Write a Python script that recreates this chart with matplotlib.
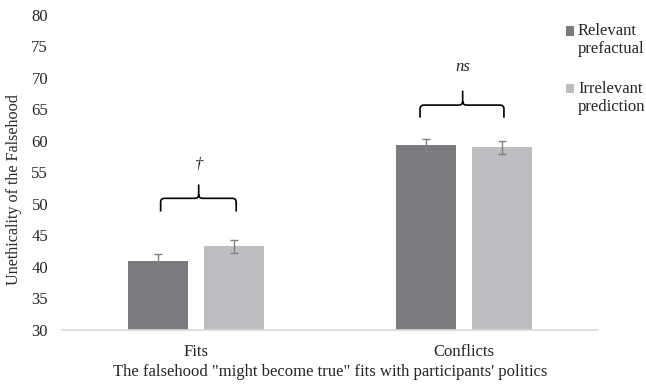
import matplotlib
matplotlib.use("Agg")
import matplotlib.pyplot as plt
import numpy as np
from matplotlib.path import Path
from matplotlib.patches import PathPatch, Rectangle

plt.rcParams['font.family'] = ['Liberation Serif', 'DejaVu Serif']

# Data
categories = ["Fits", "Conflicts"]
series_names = ["Relevant\nprefactual", "Irrelevant\nprediction"]
relevant_prefactual = [41.0, 59.4]
irrelevant_prediction = [43.3, 59.0]
relevant_err = [1.0, 0.95]
irrelevant_err = [1.05, 1.0]
significance = ["\u2020", "ns"]
y_ticks = [30, 35, 40, 45, 50, 55, 60, 65, 70, 75, 80]

colors = ["#7a7b7f", "#bdbec2"]
text_color = "#262626"
fs = 12

fig = plt.figure(figsize=(6.46, 3.85), dpi=100)
ax = fig.add_axes([62 / 646, 1 - 330 / 385, 536 / 646, 315 / 385])

x = np.arange(len(categories))
width = 0.224
offset = 0.142

ax.bar(x - offset, relevant_prefactual, width, color=colors[0], zorder=2)
ax.bar(x + offset, irrelevant_prediction, width, color=colors[1], zorder=2)
ax.errorbar(x - offset, relevant_prefactual, yerr=relevant_err, fmt='none',
            ecolor="#808080", elinewidth=1.0, capsize=3, capthick=1.0, zorder=3)
ax.errorbar(x + offset, irrelevant_prediction, yerr=irrelevant_err, fmt='none',
            ecolor="#808080", elinewidth=1.0, capsize=3, capthick=1.0, zorder=3)

ax.set_xlim(-0.5, 1.5)
ax.set_ylim(30, 80)
ax.set_yticks(y_ticks)
ax.set_xticks(x)
ax.set_xticklabels(categories)
ax.tick_params(axis='both', length=0, labelsize=fs, colors=text_color)
ax.tick_params(axis='y', pad=10)
ax.tick_params(axis='x', pad=10)
for s in ["top", "right", "left"]:
    ax.spines[s].set_visible(False)
ax.spines["bottom"].set_color("#d9d9d9")
ax.spines["bottom"].set_linewidth(1.2)

ax.set_xlabel("The falsehood \"might become true\" fits with participants' politics",
              fontsize=fs, color=text_color, labelpad=3)
fig.text(14 / 646, 1 - 190 / 385, "Unethicality of the Falsehood", rotation=90,
         ha='center', va='center', fontsize=11.6, color=text_color)


def brace(ax, x0, x1, xm, y_end, y_bar, y_peak, rx=0.015, ry=0.6):
    verts = [
        (x0, y_end), (x0, y_bar - ry), (x0, y_bar), (x0 + rx, y_bar),
        (xm - rx, y_bar), (xm, y_bar), (xm, y_bar + ry), (xm, y_peak),
        (x1, y_end), (x1, y_bar - ry), (x1, y_bar), (x1 - rx, y_bar),
        (xm + rx, y_bar), (xm, y_bar), (xm, y_bar + ry),
    ]
    codes = [
        Path.MOVETO, Path.LINETO, Path.CURVE3, Path.CURVE3,
        Path.LINETO, Path.CURVE3, Path.CURVE3, Path.LINETO,
        Path.MOVETO, Path.LINETO, Path.CURVE3, Path.CURVE3,
        Path.LINETO, Path.CURVE3, Path.CURVE3,
    ]
    ax.add_patch(PathPatch(Path(verts, codes), facecolor='none',
                           edgecolor='black', linewidth=1.2, zorder=4))


# Significance braces and markers
brace(ax, 0 - 0.132, 0 + 0.150, 0 + 0.010, 48.8, 50.9, 53.1)
ax.text(0 + 0.010, 56.3, significance[0], ha='center', va='center',
        fontsize=fs, style='italic', color=text_color)
brace(ax, 1 - 0.164, 1 + 0.149, 1 - 0.005, 63.7, 65.7, 68.0)
ax.text(1 - 0.005, 71.8, significance[1], ha='center', va='center',
        fontsize=fs, style='italic', color=text_color)

# Legend
legend_y = [1 - 31 / 385, 1 - 89 / 385]
for name, col, ly in zip(series_names, colors, legend_y):
    fig.add_artist(Rectangle((566 / 646, ly - 4.5 / 385), 8 / 646, 9 / 385,
                             facecolor=col, edgecolor='none',
                             transform=fig.transFigure))
    first, second = name.split("\n")
    fig.text(578 / 646, ly, first, ha='left', va='center', fontsize=fs,
             color=text_color)
    fig.text(578 / 646, ly - 18 / 385, second, ha='left', va='center',
             fontsize=fs, color=text_color)

fig.savefig("out.png", dpi=100)
